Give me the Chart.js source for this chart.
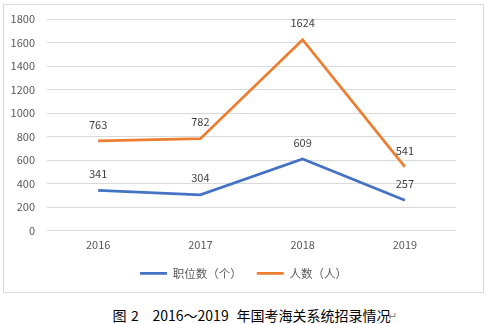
<!DOCTYPE html>
<html>
<head>
<meta charset="utf-8">
<script src="https://cdn.jsdelivr.net/npm/chart.js@4/dist/chart.umd.min.js"></script>
<style>
  html, body { margin: 0; padding: 0; background: #fff; width: 487px; height: 324px; overflow: hidden; }
  #frame { position: absolute; left: 3px; top: 4px; width: 479px; height: 287px; border: 1px solid #d9d9d9; }
  #frame canvas { display: block; }
  #caption { position: absolute; left: 0; top: 305.5px; width: 487px; height: 18px; font-family: "Noto Sans CJK SC", sans-serif; font-size: 14px; color: #000; line-height: 18px; }
  #caption span { position: absolute; top: 0; white-space: pre; }
  #caption .mark { color: #888; font-size: 11px; }
</style>
</head>
<body>
<div id="frame"><canvas id="c" width="479" height="287"></canvas></div>
<div id="caption"><span style="left:112.5px">图</span><span style="left:131px">2</span><span style="left:152.5px">2016～2019</span><span style="left:236.5px">年国考海关系统招录情况</span><span class="mark" style="left:388px">↵</span></div>
<script>
const categories = ["2016", "2017", "2018", "2019"];
const positionsSeries = [341, 304, 609, 257];
const peopleSeries = [763, 782, 1624, 541];
const seriesNames = ["职位数（个）", "人数（人）"];
const yTicks = [0, 200, 400, 600, 800, 1000, 1200, 1400, 1600, 1800];

const FONT = '"Noto Sans CJK SC", sans-serif';

const dataLabels = {
  id: 'dataLabels',
  afterDatasetsDraw(chart) {
    const ctx = chart.ctx;
    ctx.save();
    ctx.font = '11px ' + FONT;
    ctx.fillStyle = '#404040';
    ctx.textAlign = 'center';
    ctx.textBaseline = 'middle';
    chart.data.datasets.forEach((ds, i) => {
      const meta = chart.getDatasetMeta(i);
      meta.data.forEach((pt, j) => {
        ctx.fillText(String(ds.data[j]), pt.x, pt.y - 16.5);
      });
    });
    ctx.restore();
  }
};

new Chart(document.getElementById('c'), {
  type: 'line',
  data: {
    labels: categories,
    datasets: [
      { label: seriesNames[0], data: positionsSeries, borderColor: '#4472C4', backgroundColor: '#4472C4', borderWidth: 2.75, pointRadius: 0, tension: 0, fill: false, yAxisID: 'y' },
      { label: seriesNames[1], data: peopleSeries, borderColor: '#ED7D31', backgroundColor: '#ED7D31', borderWidth: 2.75, pointRadius: 0, tension: 0, fill: false, yAxisID: 'y' }
    ]
  },
  options: {
    responsive: false,
    animation: false,
    devicePixelRatio: 1,
    layout: { padding: { left: 6, right: 6, top: 14, bottom: 3 } },
    plugins: {
      tooltip: { enabled: false },
      legend: {
        position: 'bottom',
        labels: {
          usePointStyle: true,
          pointStyle: 'line',
          pointStyleWidth: 27,
          padding: 15,
          color: '#595959',
          font: { family: FONT, size: 11.5 }
        }
      }
    },
    scales: {
      x: {
        offset: true,
        grid: { display: false, drawTicks: false },
        border: { display: false },
        ticks: { color: '#595959', padding: 8, font: { family: FONT, size: 11 } },
        afterFit(s) { s.height = 22; }
      },
      y: {
        position: 'left',
        min: 0, max: 1800,
        afterBuildTicks(s) { s.ticks = yTicks.map(v => ({ value: v })); },
        grid: { color: '#d9d9d9', lineWidth: 1, drawTicks: false },
        border: { display: false },
        ticks: { color: '#595959', padding: 12, font: { family: FONT, size: 11 }, callback: v => String(v) },
        afterFit(s) { s.width = 37; s.paddingTop = 0; s.paddingBottom = 0; }
      },
      spacer: {
        type: 'linear',
        position: 'right',
        display: true,
        grid: { display: false, drawTicks: false },
        border: { display: false },
        ticks: { display: false },
        afterFit(s) { s.width = 21; s.paddingTop = 0; s.paddingBottom = 0; }
      }
    }
  },
  plugins: [dataLabels]
});
</script>
</body>
</html>
